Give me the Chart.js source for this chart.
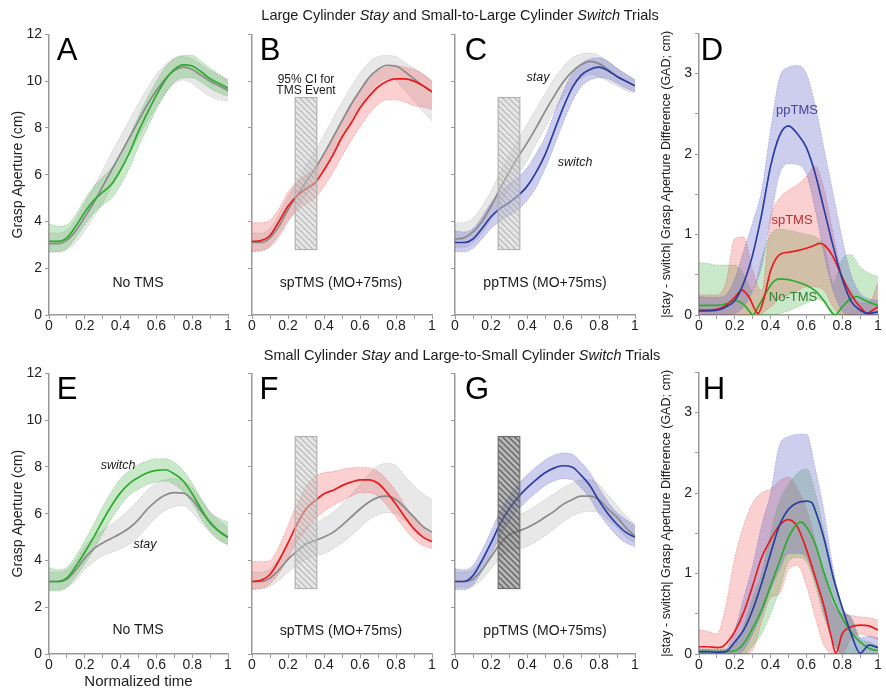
<!DOCTYPE html>
<html><head><meta charset="utf-8">
<script src="https://cdn.jsdelivr.net/npm/chart.js@4.4.1/dist/chart.umd.min.js"></script>
<style>
html,body{margin:0;padding:0;background:#fff;}
body{width:886px;height:692px;position:relative;overflow:hidden;font-family:"Liberation Sans",Arial,Helvetica,sans-serif;}
canvas{position:absolute;}
.t{position:absolute;white-space:nowrap;line-height:1;transform:translate(-50%,-50%);color:#1a1a1a;z-index:5;}
</style></head><body>
<script>
// ---------- data ----------
const t = [0,0.05,0.1,0.15,0.2,0.25,0.3,0.35,0.4,0.45,0.5,0.55,0.6,0.65,0.7,0.75,0.8,0.85,0.9,0.95,1];
const xTicksLabelled = [0,0.2,0.4,0.6,0.8,1];
const ciBox = [0.24, 0.36, 2.8, 9.3]; // x0, x1, y0, y1 of the 95% CI for the TMS event

// Panel A (No TMS, large stay vs small-to-large switch)
const A_stay   = [3.05,3.05,3.2,3.6,4.2,4.8,5.5,6.2,6.9,7.6,8.3,9.0,9.6,10.1,10.45,10.6,10.5,10.25,10.0,9.8,9.6];
const A_stayLo = [2.7,2.7,2.8,3.1,3.6,4.2,4.8,5.5,6.2,6.9,7.6,8.3,8.9,9.5,9.9,10.05,9.9,9.6,9.35,9.2,9.15];
const A_stayHi = [3.5,3.5,3.65,4.1,4.8,5.45,6.2,6.95,7.65,8.35,9.05,9.7,10.3,10.7,11.0,11.05,10.95,10.7,10.45,10.25,10.05];
const A_sw     = [3.15,3.15,3.3,3.8,4.4,4.9,5.25,5.6,6.2,6.95,7.85,8.65,9.4,10.05,10.5,10.7,10.65,10.4,10.1,9.9,9.7];
const A_swLo   = [2.7,2.7,2.85,3.3,3.85,4.35,4.7,5.0,5.55,6.3,7.2,8.0,8.8,9.45,9.95,10.15,10.15,9.95,9.7,9.5,9.35];
const A_swHi   = [3.9,3.8,3.85,4.3,4.95,5.5,5.9,6.3,6.9,7.65,8.5,9.3,10.0,10.6,10.95,11.1,11.1,10.85,10.55,10.3,10.05];
// Panel B (spTMS)
const B_stay   = [3.1,3.1,3.3,3.8,4.5,5.1,5.7,6.25,6.9,7.6,8.3,9.0,9.6,10.15,10.5,10.68,10.65,10.4,10.1,9.8,9.55];
const B_stayLo = [2.75,2.75,2.9,3.3,3.95,4.55,5.1,5.6,6.25,6.95,7.65,8.35,8.95,9.5,9.9,10.1,10.0,9.6,9.15,8.7,8.3];
const B_stayHi = [3.5,3.5,3.7,4.3,5.05,5.7,6.4,7.0,7.7,8.4,9.1,9.75,10.35,10.8,11.05,11.1,11.05,10.8,10.55,10.3,10.0];
const B_sw     = [3.15,3.18,3.4,4.0,4.65,5.1,5.4,5.65,6.2,6.85,7.6,8.2,8.85,9.35,9.75,10.0,10.1,10.1,10.0,9.8,9.55];
const B_swLo   = [2.7,2.75,2.95,3.45,4.05,4.45,4.75,5.0,5.5,6.1,6.8,7.45,8.05,8.6,9.0,9.2,9.2,9.1,8.95,8.9,8.8];
const B_swHi   = [3.95,3.95,4.05,4.55,5.25,5.7,6.0,6.3,6.9,7.6,8.35,8.95,9.6,10.05,10.4,10.6,10.65,10.6,10.5,10.3,10.0];
// Panel C (ppTMS)
const C_stay   = [3.25,3.3,3.55,4.0,4.65,5.4,6.1,6.75,7.35,8.0,8.7,9.35,9.95,10.4,10.7,10.85,10.75,10.5,10.2,10.0,9.8];
const C_stayLo = [2.9,2.9,3.1,3.5,4.1,4.7,5.4,6.0,6.6,7.3,8.0,8.7,9.3,9.8,10.1,10.3,10.2,10.0,9.8,9.6,9.5];
const C_stayHi = [3.95,3.95,4.15,4.65,5.3,6.1,6.8,7.5,8.15,8.8,9.45,10.1,10.6,11.0,11.15,11.2,11.1,10.85,10.55,10.3,10.05];
const C_sw     = [3.1,3.1,3.25,3.7,4.2,4.55,4.8,5.1,5.5,6.1,6.85,7.85,8.85,9.7,10.25,10.5,10.6,10.45,10.2,10.0,9.8];
const C_swLo   = [2.7,2.7,2.85,3.25,3.7,4.0,4.25,4.5,4.9,5.45,6.25,7.2,8.2,9.1,9.75,10.05,10.15,10.1,9.9,9.7,9.55];
const C_swHi   = [3.6,3.55,3.7,4.2,4.8,5.25,5.6,5.9,6.3,6.9,7.6,8.6,9.55,10.3,10.75,10.95,11.0,10.85,10.55,10.3,10.05];
// Panel D (|stay - switch| GAD, top row)
const D_ppX = t;
const D_pp  = [0.05,0.05,0.06,0.1,0.18,0.4,0.75,1.25,1.85,2.23,2.35,2.25,2.08,1.75,1.3,0.85,0.45,0.17,0.06,0.02,0.04];
const D_spX = [0,0.05,0.1,0.15,0.2,0.24,0.28,0.31,0.33,0.36,0.4,0.45,0.5,0.55,0.6,0.65,0.67,0.7,0.75,0.8,0.85,0.9,0.94,0.97,1];
const D_sp  = [0.06,0.06,0.07,0.12,0.22,0.31,0.22,0.08,0.02,0.18,0.55,0.75,0.78,0.8,0.83,0.87,0.89,0.87,0.72,0.47,0.25,0.1,0.02,0.06,0.1];
const D_noX = [0,0.1,0.15,0.2,0.25,0.28,0.3,0.33,0.37,0.41,0.45,0.5,0.55,0.6,0.65,0.7,0.73,0.76,0.8,0.84,0.88,0.92,0.96,1];
const D_no  = [0.12,0.12,0.14,0.18,0.13,0.05,0.0,0.1,0.26,0.4,0.45,0.44,0.41,0.37,0.3,0.17,0.07,0.0,0.1,0.19,0.23,0.19,0.15,0.12];
const D_ppLo = [0,0,0,0,0.02,0.1,0.3,0.6,1.2,1.75,1.88,1.87,1.75,1.3,0.75,0.3,0.05,0,0,0,0];
const D_ppHi = [0.23,0.22,0.22,0.25,0.45,0.8,1.15,1.55,2.3,2.95,3.08,3.1,3.0,2.6,2.05,1.5,0.95,0.5,0.27,0.2,0.18];
const D_spLo = [0,0,0,0,0,0,0,0.02,0.1,0.2,0.25,0.3,0.35,0.35,0.3,0.1,0,0,0,0,0];
const D_spHi = [0.25,0.25,0.25,0.4,0.95,0.97,0.55,0.3,1.2,1.45,1.55,1.62,1.72,1.85,1.55,1.0,0.5,0.3,0.15,0.15,0.4];
const D_noLo = [0,0,0,0,0,0,0,0,0,0.02,0.05,0.1,0.15,0.2,0.15,0,0,0,0,0,0];
const D_noHi = [0.65,0.64,0.62,0.62,0.62,0.5,0.3,0.7,1.0,1.07,1.05,1.03,1.0,0.97,0.85,0.4,0.7,0.75,0.6,0.52,0.48];
// Panel E (No TMS, small stay vs large-to-small switch)
const E_stay   = [3.1,3.1,3.2,3.6,4.1,4.5,4.75,4.95,5.15,5.4,5.75,6.2,6.55,6.8,6.9,6.88,6.6,6.1,5.65,5.25,5.0];
const E_stayLo = [2.75,2.75,2.85,3.15,3.6,3.95,4.2,4.35,4.5,4.7,5.0,5.45,5.85,6.15,6.3,6.35,6.05,5.6,5.2,4.85,4.7];
const E_stayHi = [3.5,3.5,3.6,4.0,4.6,5.0,5.3,5.55,5.85,6.2,6.6,7.0,7.3,7.45,7.5,7.4,7.1,6.6,6.1,5.7,5.4];
const E_sw     = [3.1,3.1,3.25,3.75,4.35,5.0,5.7,6.35,6.9,7.3,7.55,7.75,7.85,7.88,7.7,7.4,6.85,6.2,5.6,5.25,4.98];
const E_swLo   = [2.7,2.7,2.85,3.3,3.85,4.45,5.15,5.8,6.35,6.8,7.05,7.25,7.35,7.4,7.25,6.95,6.45,5.8,5.25,4.9,4.65];
const E_swHi   = [3.7,3.6,3.7,4.2,4.85,5.55,6.3,6.95,7.5,7.85,8.1,8.25,8.35,8.35,8.2,7.85,7.3,6.65,6.05,5.8,5.65];
// Panel F (spTMS)
const F_stay   = [3.1,3.1,3.25,3.6,4.05,4.4,4.7,4.85,5.0,5.2,5.5,5.85,6.2,6.5,6.7,6.75,6.6,6.25,5.85,5.45,5.2];
const F_stayLo = [2.8,2.8,2.9,3.15,3.5,3.8,4.05,4.2,4.3,4.5,4.75,5.05,5.4,5.75,5.95,6.05,6.0,5.7,5.35,5.0,4.85];
const F_stayHi = [3.5,3.5,3.65,4.1,4.65,5.05,5.4,5.6,5.8,6.05,6.4,6.8,7.25,7.7,8.05,8.15,8.05,7.6,7.2,6.85,6.6];
const F_sw     = [3.1,3.15,3.4,4.0,4.75,5.55,6.2,6.55,6.85,7.0,7.2,7.35,7.45,7.45,7.3,6.9,6.4,5.85,5.35,5.0,4.8];
const F_swLo   = [2.75,2.8,3.0,3.45,4.1,4.8,5.3,5.75,6.1,6.35,6.55,6.75,6.9,6.9,6.75,6.35,5.85,5.35,4.9,4.65,4.5];
const F_swHi   = [3.95,3.95,4.0,4.6,5.5,6.4,7.15,7.6,7.75,7.8,7.9,7.95,7.98,7.95,7.8,7.45,6.95,6.35,5.8,5.35,5.1];
// Panel G (ppTMS)
const G_stay   = [3.1,3.1,3.2,3.6,4.15,4.7,5.1,5.25,5.4,5.6,5.85,6.1,6.4,6.6,6.75,6.75,6.6,6.2,5.85,5.4,5.05];
const G_stayLo = [2.85,2.85,2.9,3.2,3.65,4.1,4.4,4.5,4.6,4.8,5.05,5.35,5.65,5.9,6.05,6.1,6.05,5.75,5.4,5.0,4.75];
const G_stayHi = [3.5,3.5,3.6,4.05,4.7,5.3,5.75,5.95,6.1,6.35,6.6,6.85,7.1,7.3,7.45,7.45,7.25,6.8,6.35,5.9,5.55];
const G_sw     = [3.1,3.1,3.35,4.0,4.75,5.55,6.2,6.7,7.1,7.45,7.75,7.95,8.05,8.0,7.65,7.2,6.55,6.0,5.55,5.2,5.0];
const G_swLo   = [2.75,2.75,2.95,3.55,4.25,5.0,5.65,6.15,6.55,6.9,7.2,7.4,7.5,7.45,7.1,6.65,6.0,5.5,5.05,4.75,4.6];
const G_swHi   = [3.65,3.6,3.8,4.45,5.25,6.1,6.75,7.25,7.65,8.0,8.3,8.5,8.6,8.55,8.2,7.75,7.1,6.5,6.05,5.75,5.5];
// Panel H (|stay - switch| GAD, bottom row)
const H_ppX = [0,0.05,0.1,0.15,0.2,0.25,0.3,0.35,0.4,0.45,0.5,0.55,0.6,0.63,0.65,0.7,0.75,0.8,0.85,0.9,0.95,1];
const H_pp  = [0.03,0.03,0.02,0.03,0.15,0.3,0.55,0.88,1.25,1.6,1.8,1.88,1.9,1.88,1.78,1.42,0.95,0.58,0.25,0.01,0.11,0.08];
const H_spX = [0,0.05,0.1,0.13,0.17,0.2,0.25,0.3,0.35,0.4,0.45,0.5,0.55,0.6,0.65,0.7,0.74,0.765,0.8,0.85,0.9,0.95,1];
const H_sp  = [0.09,0.09,0.08,0.09,0.18,0.28,0.52,0.85,1.2,1.42,1.6,1.67,1.58,1.3,0.95,0.58,0.2,0.01,0.25,0.34,0.36,0.35,0.3];
const H_noX = [0,0.05,0.1,0.15,0.2,0.25,0.3,0.35,0.4,0.45,0.5,0.55,0.57,0.6,0.65,0.7,0.75,0.8,0.85,0.9,0.95,1];
const H_no  = [0.03,0.03,0.03,0.03,0.04,0.13,0.32,0.55,0.85,1.15,1.45,1.62,1.64,1.58,1.36,1.0,0.68,0.45,0.27,0.15,0.07,0.04];
const H_ppLo = [0,0,0,0,0,0.05,0.25,0.5,0.8,1.05,1.25,1.25,1.2,0.9,0.5,0.15,0,0,0,0,0];
const H_ppHi = [0.06,0.06,0.05,0.06,0.3,0.7,1.1,1.6,2.0,2.6,2.7,2.73,2.73,2.3,1.75,1.05,0.58,0.45,0.2,0.22,0.2];
const H_spLo = [0,0,0,0,0,0,0.05,0.4,0.7,0.75,1.05,1.1,0.85,0.45,0.1,0,0,0.2,0.25,0.22,0.18];
const H_spHi = [0.3,0.28,0.25,0.6,1.2,1.6,1.88,2.0,2.05,2.15,2.2,2.05,1.8,1.4,0.95,0.6,0.5,0.48,0.46,0.45,0.42];
const H_noLo = [0,0,0,0,0,0,0.1,0.25,0.5,0.8,1.15,1.2,1.15,0.85,0.45,0.15,0,0,0,0,0];
const H_noHi = [0.06,0.06,0.06,0.06,0.12,0.35,0.7,1.0,1.5,1.9,2.1,2.25,2.3,2.0,1.5,1.0,0.55,0.45,0.2,0.15,0.1];

// ---------- styles ----------
const FF = '"Liberation Sans", Arial, Helvetica, sans-serif';
Chart.defaults.font.family = FF;
const COL = {
  gray:  {line:'rgb(138,138,138)', band:'rgba(140,140,140,0.2)',  edge:'rgba(140,140,140,0.5)'},
  green: {line:'rgb(44,172,44)',   band:'rgba(60,170,60,0.27)',   edge:'rgba(60,160,60,0.5)'},
  red:   {line:'rgb(232,28,28)',   band:'rgba(235,60,60,0.24)',   edge:'rgba(220,60,60,0.5)'},
  blue:  {line:'rgb(40,62,160)',   band:'rgba(90,90,200,0.3)',    edge:'rgba(90,90,190,0.5)'}
};
const AXIS = '#9a9a9a';

function pts(xs, ys){ return xs.map((x,i)=>({x:x, y:ys[i]})); }

function buildDatasets(series){
  const ds = [];
  series.forEach((s, k)=>{
    const bandOrder = 100 - k;
    const loIdx = ds.length;
    ds.push({data:pts(s.bx, s.lo), borderColor:s.col.edge, borderWidth:0.8, borderDash:[1.5,1.5],
             pointRadius:0, fill:false, order:bandOrder, cubicInterpolationMode:'monotone'});
    ds.push({data:pts(s.bx, s.hi), borderColor:s.col.edge, borderWidth:0.8, borderDash:[1.5,1.5],
             pointRadius:0, fill:loIdx, backgroundColor:s.col.band, order:bandOrder, cubicInterpolationMode:'monotone'});
  });
  series.forEach((s, k)=>{
    ds.push({data:pts(s.x, s.y), borderColor:s.col.line, borderWidth:1.7, pointRadius:0, fill:false,
             order:50 - k, cubicInterpolationMode:'monotone'});
  });
  return ds;
}

function ciPlugin(style){
  return {id:'ci', afterDatasetsDraw(chart){
    const xs = chart.scales.x, ys = chart.scales.y, ctx = chart.ctx;
    const x0 = xs.getPixelForValue(ciBox[0]), x1 = xs.getPixelForValue(ciBox[1]);
    const y0 = ys.getPixelForValue(ciBox[3]), y1 = ys.getPixelForValue(ciBox[2]);
    ctx.save();
    ctx.beginPath(); ctx.rect(x0, y0, x1-x0, y1-y0);
    ctx.fillStyle = style.fill; ctx.fill();
    ctx.save(); ctx.clip();
    ctx.strokeStyle = style.hatch; ctx.lineWidth = style.hw;
    const h = y1 - y0;
    for (let s = x0 - h; s < x1 + 2; s += style.gap){
      ctx.beginPath(); ctx.moveTo(s, y0); ctx.lineTo(s + h, y1); ctx.stroke();
    }
    ctx.restore();
    ctx.strokeStyle = style.border; ctx.lineWidth = 1.2;
    ctx.strokeRect(x0, y0, x1-x0, y1-y0);
    ctx.restore();
  }};
}
const CI_LIGHT = {fill:'rgba(205,205,205,0.5)', hatch:'rgba(160,160,160,0.7)', hw:1.1, gap:6, border:'rgba(175,175,175,0.95)'};
const CI_DARK  = {fill:'rgba(125,125,125,0.55)', hatch:'rgba(65,65,65,0.7)', hw:1.4, gap:6, border:'rgba(105,105,105,0.95)'};

function makePanel(p){
  const PT = 10, PR = 8;
  const w = p.YW + (p.area[2]-p.area[0]) + PR;
  const h = PT + (p.area[3]-p.area[1]) + p.XH;
  const cv = document.createElement('canvas');
  cv.width = w; cv.height = h;
  cv.style.left = (p.area[0]-p.YW)+'px'; cv.style.top = (p.area[1]-PT)+'px';
  cv.style.width = w+'px'; cv.style.height = h+'px';
  document.body.appendChild(cv);
  const yLabel = p.yLabels;
  new Chart(cv.getContext('2d'), {
    type:'line',
    data:{datasets: buildDatasets(p.series)},
    options:{
      responsive:false, animation:false, devicePixelRatio:1, events:[],
      layout:{padding:{top:PT, right:PR, left:0, bottom:0}},
      plugins:{legend:{display:false}, tooltip:{enabled:false}},
      scales:{
        x:{type:'linear', min:0, max:1,
           border:{color:AXIS, width:1.5},
           grid:{drawOnChartArea:false, tickLength:4, tickColor:AXIS, tickWidth:1},
           ticks:{stepSize:0.1, autoSkip:false, maxRotation:0, padding:0, color:'#222',
                  font:{size:14, lineHeight:1},
                  callback:(v)=>{ const k = Math.round(v*10)/10; return xTicksLabelled.includes(k) ? String(k) : ''; }},
           title:{display:!!p.xTitle, text:p.xTitle||'', color:'#222', font:{size:15}, padding:{top:0,bottom:1}},
           afterFit:(s)=>{ s.height = p.XH; }
        },
        y:{type:'linear', min:0, max:p.ymax,
           border:{color:AXIS, width:1.5},
           grid:{drawOnChartArea:false, tickLength:4, tickColor:AXIS, tickWidth:1},
           ticks:{stepSize:p.ystep, autoSkip:false, padding:3, color:'#222', font:{size:14},
                  callback:(v)=> yLabel(v)},
           title:{display:!!p.yTitle, text:p.yTitle||'', color:'#222', font:{size:p.yTitleSize||14},
                  padding:{top:p.yTitlePad||0, bottom:0}},
           afterFit:(s)=>{ s.width = p.YW; }
        }
      }
    },
    plugins: p.ci ? [ciPlugin(p.ci)] : []
  });
}

const allLab = v => String(v);
const noLab = v => '';
const intLab = v => Number.isInteger(v) ? String(v) : '';
const GT = 'Grasp Aperture (cm)';
const DT = '|stay - switch| Grasp Aperture Difference (GAD; cm)';

function pair(stay, stayLo, stayHi, sw, swLo, swHi, col){
  return [
    {x:t, y:stay, lo:stayLo, hi:stayHi, bx:t, col:COL.gray},
    {x:t, y:sw, lo:swLo, hi:swHi, bx:t, col:col}
  ];
}

const panels = [
  {area:[49,33,228,315], YW:49, XH:25, ymax:12, ystep:2, yLabels:allLab, yTitle:GT, yTitlePad:10,
   series:pair(A_stay,A_stayLo,A_stayHi,A_sw,A_swLo,A_swHi,COL.green)},
  {area:[252,33,432,315], YW:12, XH:25, ymax:12, ystep:2, yLabels:noLab,
   series:pair(B_stay,B_stayLo,B_stayHi,B_sw,B_swLo,B_swHi,COL.red), ci:CI_LIGHT},
  {area:[455,33,635,315], YW:12, XH:25, ymax:12, ystep:2, yLabels:noLab,
   series:pair(C_stay,C_stayLo,C_stayHi,C_sw,C_swLo,C_swHi,COL.blue), ci:CI_LIGHT},
  {area:[699,32,878,315], YW:45, XH:25, ymax:3.5, ystep:0.5, yLabels:intLab, yTitle:DT, yTitleSize:12.5, yTitlePad:5.5,
   series:[
     {x:D_noX, y:D_no, lo:D_noLo, hi:D_noHi, bx:t, col:COL.green},
     {x:D_spX, y:D_sp, lo:D_spLo, hi:D_spHi, bx:t, col:COL.red},
     {x:D_ppX, y:D_pp, lo:D_ppLo, hi:D_ppHi, bx:t, col:COL.blue}
   ]},
  {area:[49,372,228,654], YW:49, XH:38, ymax:12, ystep:2, yLabels:allLab, yTitle:GT, yTitlePad:10, xTitle:'Normalized time',
   series:pair(E_stay,E_stayLo,E_stayHi,E_sw,E_swLo,E_swHi,COL.green)},
  {area:[252,372,432,654], YW:12, XH:25, ymax:12, ystep:2, yLabels:noLab,
   series:pair(F_stay,F_stayLo,F_stayHi,F_sw,F_swLo,F_swHi,COL.red), ci:CI_LIGHT},
  {area:[455,372,635,654], YW:12, XH:25, ymax:12, ystep:2, yLabels:noLab,
   series:pair(G_stay,G_stayLo,G_stayHi,G_sw,G_swLo,G_swHi,COL.blue), ci:CI_DARK},
  {area:[699,371,878,654], YW:45, XH:25, ymax:3.5, ystep:0.5, yLabels:intLab, yTitle:DT, yTitleSize:12.5, yTitlePad:5.5,
   series:[
     {x:H_spX, y:H_sp, lo:H_spLo, hi:H_spHi, bx:t, col:COL.red},
     {x:H_noX, y:H_no, lo:H_noLo, hi:H_noHi, bx:t, col:COL.green},
     {x:H_ppX, y:H_pp, lo:H_ppLo, hi:H_ppHi, bx:t, col:COL.blue}
   ]}
];
panels.forEach(makePanel);

// ---------- text ----------
function txt(html, cx, cy, size, extra){
  const d = document.createElement('div');
  d.className = 't';
  d.innerHTML = html;
  d.style.left = cx+'px'; d.style.top = cy+'px'; d.style.fontSize = size+'px';
  if (extra) Object.assign(d.style, extra);
  document.body.appendChild(d);
}
txt('Large Cylinder <i>Stay</i> and Small-to-Large Cylinder <i>Switch</i> Trials', 460, 15, 14.5);
txt('Small Cylinder <i>Stay</i> and Large-to-Small Cylinder <i>Switch</i> Trials', 462, 355, 14.5);
const letters = [['A',67,49],['B',270,49],['C',476,49],['D',712,49],['E',67,388],['F',269,388],['G',477,388],['H',714,388]];
letters.forEach(l=>txt(l[0], l[1], l[2], 31, {color:'#000'}));
txt('No TMS', 138, 282, 14);
txt('spTMS (MO+75ms)', 341, 282, 14);
txt('ppTMS (MO+75ms)', 545, 282, 14);
txt('No TMS', 138, 629, 14);
txt('spTMS (MO+75ms)', 341, 630, 14);
txt('ppTMS (MO+75ms)', 545, 630, 14);
txt('95% CI for', 306, 79, 12);
txt('TMS Event', 306, 89.5, 12);
txt('<i>stay</i>', 538, 77, 12.5);
txt('<i>switch</i>', 575, 162, 12.5);
txt('<i>switch</i>', 118, 465, 12.5);
txt('<i>stay</i>', 145, 544, 12.5);
txt('ppTMS', 797, 109, 13, {color:'#45449a'});
txt('spTMS', 792, 219, 13, {color:'#b5302e'});
txt('No-TMS', 793, 296, 13, {color:'#2f7d2f'});
</script>
</body></html>
